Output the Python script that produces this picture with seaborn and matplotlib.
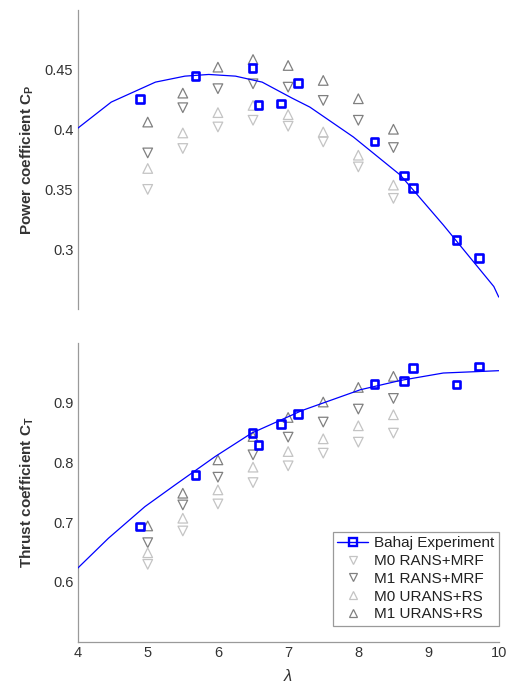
import numpy as np
import pandas as pd
import matplotlib
matplotlib.use("Agg")
import matplotlib.pyplot as plt
from matplotlib.lines import Line2D
from matplotlib.ticker import FuncFormatter
import seaborn as sns

# ---------------- data ----------------
# Bahaj experimental fit (tip speed ratio vs coefficient)
fit_lam_cp = [4.0, 4.48, 5.11, 5.53, 5.87, 6.25, 6.63, 7.05, 7.31, 7.93, 8.60, 9.21, 9.93, 10.0]
fit_cp = [0.401, 0.423, 0.4397, 0.4447, 0.4461, 0.4447, 0.4397, 0.4265, 0.4188, 0.3938, 0.3619, 0.3203, 0.2688, 0.260]

fit_lam_ct = [4.0, 4.44, 4.96, 5.39, 5.96, 6.48, 7.20, 8.03, 8.60, 9.21, 10.0]
fit_ct = [0.6226, 0.6729, 0.7258, 0.7621, 0.8095, 0.8487, 0.8866, 0.9213, 0.9368, 0.9492, 0.9531]

# Bahaj experimental points
lam_exp = [4.89, 5.68, 6.49, 6.58, 6.90, 7.14, 8.23, 8.65, 8.78, 9.40, 9.72]
cp_exp = [0.4258, 0.4447, 0.4517, 0.4208, 0.4217, 0.4388, 0.3900, 0.3617, 0.3511, 0.3078, 0.2928]
ct_exp = [0.6923, 0.7789, 0.8487, 0.8291, 0.8638, 0.8811, 0.9308, 0.9358, 0.9581, 0.9302, 0.9603]

# CFD results
lam_cfd = [5.0, 5.5, 6.0, 6.5, 7.0, 7.5, 8.0, 8.5]
cp_m0_rans = [0.3500, 0.3842, 0.4022, 0.4078, 0.4028, 0.3897, 0.3688, 0.3425]
cp_m1_rans = [0.3805, 0.4183, 0.4342, 0.4383, 0.4355, 0.4244, 0.4078, 0.3850]
cp_m0_urans = [0.3675, 0.3972, 0.4142, 0.4202, 0.4125, 0.3980, 0.3786, 0.3536]
cp_m1_urans = [0.4063, 0.4305, 0.4522, 0.4586, 0.4536, 0.4411, 0.4258, 0.4003]

ct_m0_rans = [0.6293, 0.6851, 0.7303, 0.7660, 0.7940, 0.8152, 0.8336, 0.8487]
ct_m1_rans = [0.6655, 0.7286, 0.7750, 0.8124, 0.8420, 0.8672, 0.8889, 0.9067]
ct_m0_urans = [0.6487, 0.7064, 0.7538, 0.7918, 0.8179, 0.8392, 0.8610, 0.8794]
ct_m1_urans = [0.6935, 0.7482, 0.8040, 0.8430, 0.8749, 0.9007, 0.9251, 0.9436]

series_names = ["M0 RANS+MRF", "M1 RANS+MRF", "M0 URANS+RS", "M1 URANS+RS"]
exp_name = "Bahaj Experiment"

# ---------------- style ----------------
sns.set_style("white")
plt.rcParams["font.family"] = ["Liberation Sans", "DejaVu Sans"]
plt.rcParams["mathtext.fontset"] = "custom"
plt.rcParams["mathtext.rm"] = "Liberation Sans"
plt.rcParams["mathtext.it"] = "Liberation Sans:italic"
plt.rcParams["mathtext.bf"] = "Liberation Sans:bold"

BLUE = "#0000ff"
LIGHT = "#c4c4c4"
DARK = "#808080"
AXC = "#9a9a9a"
TXT = "#333333"

styles = {
    "M0 RANS+MRF": dict(marker="v", color=LIGHT),
    "M1 RANS+MRF": dict(marker="v", color=DARK),
    "M0 URANS+RS": dict(marker="^", color=LIGHT),
    "M1 URANS+RS": dict(marker="^", color=DARK),
}

fig = plt.figure(figsize=(5.07, 6.89), dpi=100)
ax1 = fig.add_axes([0.1529, 0.5515, 0.8308, 0.434])
ax2 = fig.add_axes([0.1529, 0.0687, 0.8308, 0.434])


def draw_panel(ax, fit_x, fit_y, exp_y, cfd):
    sns.lineplot(x=fit_x, y=fit_y, ax=ax, color=BLUE, lw=0.9, sort=False,
                 estimator=None, zorder=3)
    for name, vals in zip(series_names, cfd):
        st = styles[name]
        sns.scatterplot(x=lam_cfd, y=vals, ax=ax, marker=st["marker"], s=48,
                        facecolor="none", edgecolor=st["color"], linewidth=0.9,
                        zorder=2)
    sns.scatterplot(x=lam_exp, y=exp_y, ax=ax, marker="s", s=30,
                    facecolor="none", edgecolor=BLUE, linewidth=1.9, zorder=4)


draw_panel(ax1, fit_lam_cp, fit_cp, cp_exp,
           [cp_m0_rans, cp_m1_rans, cp_m0_urans, cp_m1_urans])
draw_panel(ax2, fit_lam_ct, fit_ct, ct_exp,
           [ct_m0_rans, ct_m1_rans, ct_m0_urans, ct_m1_urans])

fmt = FuncFormatter(lambda v, p: "%g" % round(v, 4))

# Power coefficient panel
ax1.set_xlim(4, 10)
ax1.set_ylim(0.25, 0.5)
ax1.set_yticks([0.25, 0.3, 0.35, 0.4, 0.45, 0.5])
ax1.set_yticklabels(["", "0.3", "0.35", "0.4", "0.45", ""])
ax1.set_xticks([])
for s in ["top", "right", "bottom"]:
    ax1.spines[s].set_visible(False)
ax1.set_ylabel(r"Power coefficient C$_\mathregular{P}$", fontsize=11,
               fontweight="bold", color=TXT)
ax1.yaxis.set_label_coords(-0.098, 0.5)

# Thrust coefficient panel
ax2.set_xlim(4, 10)
ax2.set_ylim(0.5, 1.0)
ax2.set_yticks([0.5, 0.6, 0.7, 0.8, 0.9, 1.0])
ax2.set_yticklabels(["", "0.6", "0.7", "0.8", "0.9", ""])
ax2.set_xticks([4, 5, 6, 7, 8, 9, 10])
ax2.xaxis.set_major_formatter(fmt)
for s in ["top", "right"]:
    ax2.spines[s].set_visible(False)
ax2.set_ylabel(r"Thrust coefficient C$_\mathregular{T}$", fontsize=11,
               fontweight="bold", color=TXT)
ax2.yaxis.set_label_coords(-0.098, 0.5)
ax2.set_xlabel(r"$\lambda$", fontsize=12, color=TXT, labelpad=6)

for ax in (ax1, ax2):
    for s in ["left", "bottom"]:
        ax.spines[s].set_color(AXC)
        ax.spines[s].set_linewidth(0.9)
    ax.tick_params(direction="in", length=4, width=0.8, color=AXC,
                   labelsize=10.5, labelcolor=TXT, pad=3)
    ax.set_facecolor("white")

# legend
handles = [Line2D([], [], color=BLUE, lw=1.0, marker="s", ms=6, mfc="none",
                  mec=BLUE, mew=1.7)]
for name in series_names:
    st = styles[name]
    handles.append(Line2D([], [], ls="none", marker=st["marker"], ms=6,
                          mfc="none", mec=st["color"], mew=0.9))
leg = ax2.legend(handles, [exp_name] + series_names, loc="lower right",
                 bbox_to_anchor=(1.0, 0.0525), fontsize=11, frameon=True,
                 fancybox=False, framealpha=1, edgecolor=AXC,
                 handlelength=2.0, handletextpad=0.4, labelspacing=0.25,
                 borderpad=0.3, borderaxespad=0)
leg.get_frame().set_linewidth(0.9)
for t in leg.get_texts():
    t.set_color("#222222")

fig.savefig("out.png", dpi=100, facecolor="white")
